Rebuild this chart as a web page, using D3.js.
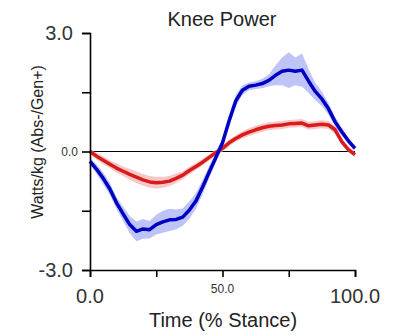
<!DOCTYPE html>
<html>
<head>
<meta charset="utf-8">
<script src="https://cdn.jsdelivr.net/npm/d3@7"></script>
<style>
  html, body { margin: 0; padding: 0; background: #fff; }
  svg { display: block; font-family: "Liberation Sans", Arial, sans-serif; }
</style>
</head>
<body>
<svg id="chart" width="394" height="335"></svg>
<script>
// Percent of stance at which each sample is taken
const stance = [0, 2.5, 5, 7.5, 10, 12.5, 15, 17.5, 20, 22.5, 25, 27.5, 30, 32.5, 35, 37.5, 40,
  42.5, 45, 47.5, 50, 52.5, 55, 57.5, 60, 62.5, 65, 67.5, 70, 72.5, 75, 77.5, 80, 82.5, 85,
  87.5, 90, 92.5, 95, 97.5, 100];

// Group 1 (blue): mean knee power and its spread (W/kg)
const blueMean = [-0.25, -0.45, -0.68, -0.95, -1.30, -1.58, -1.85, -2.02, -1.96, -1.98, -1.85,
  -1.78, -1.73, -1.72, -1.66, -1.48, -1.25, -0.90, -0.52, -0.15, 0.22, 0.78, 1.28, 1.55, 1.65,
  1.68, 1.72, 1.80, 1.93, 2.03, 2.06, 2.03, 2.06, 1.78, 1.52, 1.33, 1.08, 0.75, 0.50, 0.27, 0.08];
const blueSpread = [0.08, 0.12, 0.15, 0.15, 0.15, 0.18, 0.22, 0.25, 0.25, 0.22, 0.25, 0.28, 0.28,
  0.25, 0.22, 0.22, 0.20, 0.18, 0.15, 0.12, 0.12, 0.15, 0.15, 0.12, 0.10, 0.10, 0.12, 0.15, 0.25,
  0.35, 0.45, 0.35, 0.42, 0.30, 0.22, 0.18, 0.15, 0.12, 0.10, 0.08, 0.06];

// Group 2 (red): mean knee power and its spread (W/kg)
const redMean = [0.0, -0.12, -0.22, -0.32, -0.42, -0.50, -0.58, -0.65, -0.72, -0.77, -0.79,
  -0.78, -0.75, -0.68, -0.60, -0.48, -0.38, -0.27, -0.15, -0.03, 0.08, 0.22, 0.33, 0.42, 0.49,
  0.55, 0.60, 0.64, 0.66, 0.67, 0.70, 0.71, 0.72, 0.65, 0.67, 0.69, 0.67, 0.55, 0.25, 0.05, -0.08];
const redSpread = [0.05, 0.08, 0.10, 0.10, 0.12, 0.12, 0.14, 0.15, 0.15, 0.15, 0.15, 0.14, 0.13,
  0.12, 0.10, 0.10, 0.09, 0.08, 0.08, 0.08, 0.08, 0.08, 0.08, 0.09, 0.10, 0.10, 0.10, 0.10, 0.10,
  0.10, 0.10, 0.10, 0.10, 0.10, 0.10, 0.10, 0.10, 0.10, 0.08, 0.07, 0.06];

// Axis ticks and labelled values
const xTicks = [0, 25, 50, 75, 100];
const yTicks = [-3, -1.5, 0, 1.5, 3];
const xLabels = [{v: 0, t: "0.0", big: true}, {v: 50, t: "50.0", big: false}, {v: 100, t: "100.0", big: true}];
const yLabels = [{v: 3, t: "3.0", big: true}, {v: 0, t: "0.0", big: false}, {v: -3, t: "-3.0", big: true}];

const svg = d3.select("#chart");
const x = d3.scaleLinear().domain([0, 100]).range([90, 355]);
const y = d3.scaleLinear().domain([-3, 3]).range([270, 33]);

function bandArea(mean, spread) {
  return d3.area()
    .x((d, i) => x(stance[i]))
    .y0((d, i) => y(mean[i] - spread[i]))
    .y1((d, i) => y(mean[i] + spread[i]))(stance);
}
function meanLine(mean) {
  return d3.line().x((d, i) => x(stance[i])).y((d, i) => y(mean[i]))(stance);
}

// Zero reference line
svg.append("line")
  .attr("x1", x(0)).attr("x2", x(100))
  .attr("y1", y(0)).attr("y2", y(0))
  .attr("stroke", "#000").attr("stroke-width", 1.2);

// Spread bands
svg.append("path").attr("d", bandArea(redMean, redSpread))
  .attr("fill", "#f6b4b4").attr("fill-opacity", 0.75);
svg.append("path").attr("d", bandArea(blueMean, blueSpread))
  .attr("fill", "#a9b0f4").attr("fill-opacity", 0.75);

// Mean curves
svg.append("path").attr("d", meanLine(redMean))
  .attr("fill", "none").attr("stroke", "#d81c1c").attr("stroke-width", 3.5)
  .attr("stroke-linejoin", "round");
svg.append("path").attr("d", meanLine(blueMean))
  .attr("fill", "none").attr("stroke", "#0000c4").attr("stroke-width", 3.5)
  .attr("stroke-linejoin", "round");

// Axes
const yAxis = svg.append("g").attr("transform", `translate(${x(0)},0)`)
  .call(d3.axisLeft(y).tickValues(yTicks).tickSize(8).tickFormat(""));
const xAxis = svg.append("g").attr("transform", `translate(0,${y(-3)})`)
  .call(d3.axisBottom(x).tickValues(xTicks).tickSize(7).tickFormat(""));
[yAxis, xAxis].forEach(g => {
  g.select(".domain").attr("stroke", "#000").attr("stroke-width", 1.6);
  g.selectAll(".tick line").attr("stroke", "#000").attr("stroke-width", 1.6);
});

// Tick labels
svg.selectAll(".ylab").data(yLabels).join("text")
  .attr("class", "ylab")
  .attr("x", d => d.big ? 73 : 78)
  .attr("y", d => y(d.v))
  .attr("dy", "0.36em")
  .attr("text-anchor", "end")
  .attr("font-size", d => d.big ? 20 : 12)
  .attr("fill", "#333")
  .text(d => d.t);

svg.selectAll(".xlab").data(xLabels).join("text")
  .attr("class", "xlab")
  .attr("x", d => x(d.v))
  .attr("y", d => d.big ? 303 : 293)
  .attr("text-anchor", "middle")
  .attr("font-size", d => d.big ? 20 : 12)
  .attr("fill", "#333")
  .text(d => d.t);

// Title and axis titles
svg.append("text").attr("x", 222).attr("y", 26)
  .attr("text-anchor", "middle").attr("font-size", 20).attr("fill", "#222")
  .text("Knee Power");
svg.append("text").attr("x", 223).attr("y", 327)
  .attr("text-anchor", "middle").attr("font-size", 20).attr("fill", "#222")
  .text("Time (% Stance)");
svg.append("text")
  .attr("transform", "translate(43,142) rotate(-90)")
  .attr("text-anchor", "middle").attr("font-size", 16).attr("fill", "#222")
  .text("Watts/kg (Abs-/Gen+)");
</script>
</body>
</html>
